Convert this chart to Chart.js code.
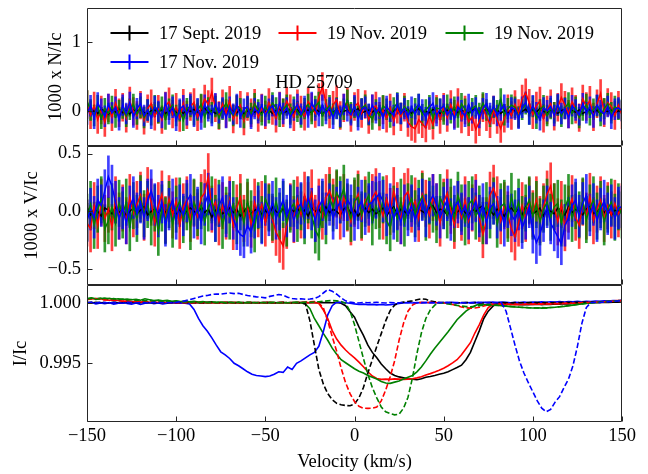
<!DOCTYPE html>
<html><head><meta charset="utf-8">
<script src="https://cdn.jsdelivr.net/npm/chart.js@4.4.1/dist/chart.umd.min.js"></script>
<style>
html,body{margin:0;padding:0;background:#fff;}
#wrap{position:relative;width:648px;height:474px;overflow:hidden;background:#fff;}
canvas{position:absolute;left:0;}
</style></head><body>
<div id="wrap">
<canvas id="cN" width="648" height="147" style="top:0px"></canvas>
<canvas id="cV" width="648" height="141" style="top:145px"></canvas>
<canvas id="cI" width="648" height="190" style="top:284px"></canvas>
</div>
<script>
// ---------------- DATA ----------------
// velocity grid of the Stokes N and V profiles (km/s)
const velocityNV = [-150,-148,-146,-144,-142,-140,-138,-136,-134,-132,-130,-128,-126,-124,-122,-120,-118,-116,-114,-112,-110,-108,-106,-104,-102,-100,-98,-96,-94,-92,-90,-88,-86,-84,-82,-80,-78,-76,-74,-72,-70,-68,-66,-64,-62,-60,-58,-56,-54,-52,-50,-48,-46,-44,-42,-40,-38,-36,-34,-32,-30,-28,-26,-24,-22,-20,-18,-16,-14,-12,-10,-8,-6,-4,-2,0,2,4,6,8,10,12,14,16,18,20,22,24,26,28,30,32,34,36,38,40,42,44,46,48,50,52,54,56,58,60,62,64,66,68,70,72,74,76,78,80,82,84,86,88,90,92,94,96,98,100,102,104,106,108,110,112,114,116,118,120,122,124,126,128,130,132,134,136,138,140,142,144,146,148,150];
// velocity grid of the intensity profiles (km/s)
const velocityI = [-150,-147.5,-145,-142.5,-140,-137.5,-135,-132.5,-130,-127.5,-125,-122.5,-120,-117.5,-115,-112.5,-110,-107.5,-105,-102.5,-100,-97.5,-95,-92.5,-90,-87.5,-85,-82.5,-80,-77.5,-75,-72.5,-70,-67.5,-65,-62.5,-60,-57.5,-55,-52.5,-50,-47.5,-45,-42.5,-40,-37.5,-35,-32.5,-30,-27.5,-25,-22.5,-20,-17.5,-15,-12.5,-10,-7.5,-5,-2.5,0,2.5,5,7.5,10,12.5,15,17.5,20,22.5,25,27.5,30,32.5,35,37.5,40,42.5,45,47.5,50,52.5,55,57.5,60,62.5,65,67.5,70,72.5,75,77.5,80,82.5,85,87.5,90,92.5,95,97.5,100,102.5,105,107.5,110,112.5,115,117.5,120,122.5,125,127.5,130,132.5,135,137.5,140,142.5,145,147.5,150];

const seriesLabels = ['17 Sept. 2019','19 Nov. 2019','19 Nov. 2019','17 Nov. 2019'];

// 1000 x N/Ic
const nBlack = [0.04,-0.02,0.01,-0.03,0.03,0.00,-0.04,0.02,-0.01,0.03,
-0.02,0.01,-0.04,0.02,0.00,0.03,-0.02,-0.03,0.01,0.02,
-0.01,0.03,-0.03,0.00,0.04,-0.02,0.01,-0.03,0.02,0.00,
0.03,-0.01,0.02,0.05,-0.02,0.01,-0.03,0.00,0.02,-0.01,
0.04,0.00,-0.02,0.03,-0.04,0.01,0.02,-0.01,0.03,-0.02,
0.00,0.02,-0.03,0.01,0.04,-0.02,0.00,0.03,-0.01,0.02,
-0.03,0.01,0.02,-0.02,0.03,0.00,-0.04,0.02,0.01,-0.02,
0.03,-0.01,0.00,0.02,-0.03,0.01,0.04,-0.02,0.00,0.02,
-0.01,0.03,-0.02,0.00,0.02,-0.04,0.01,0.03,-0.02,0.00,
0.02,-0.03,0.01,0.04,-0.01,0.00,-0.02,0.03,0.01,-0.03,
0.00,0.02,-0.01,0.03,-0.02,0.01,0.00,-0.03,0.02,0.04,
-0.02,0.01,0.03,-0.01,0.00,0.02,-0.03,0.01,-0.02,0.03,
0.01,-0.02,0.00,0.03,-0.03,0.02,-0.01,0.04,0.00,-0.02,
0.02,0.00,-0.03,0.01,0.03,-0.02,0.01,-0.01,0.02,-0.03,
0.00,0.03,-0.01,0.02,-0.04,0.01,0.00,0.02,-0.02,0.01,0.00];
const nRed = [0.10,-0.05,0.08,-0.12,0.02,-0.16,0.05,-0.08,0.12,-0.02,
0.06,-0.10,0.15,0.00,-0.06,0.09,-0.13,0.04,0.11,-0.07,
0.03,-0.12,0.08,0.14,-0.04,0.06,-0.09,0.12,-0.05,0.07,
0.13,-0.08,0.04,0.18,0.10,0.28,0.05,-0.06,0.11,-0.03,
0.16,-0.11,0.02,0.09,-0.14,0.07,-0.02,0.12,-0.09,0.05,
-0.05,0.13,0.01,-0.10,0.08,-0.02,0.15,0.04,-0.08,0.11,
0.02,-0.07,0.14,0.06,-0.03,0.20,0.36,0.12,-0.04,0.09,
0.17,-0.06,0.05,0.14,-0.09,0.07,0.12,-0.03,0.10,-0.12,
0.04,0.08,-0.07,0.02,-0.10,0.05,-0.14,0.03,-0.08,0.06,
-0.16,-0.22,-0.25,-0.12,-0.18,-0.24,-0.06,-0.20,0.03,-0.12,
0.06,-0.09,0.10,-0.04,0.13,-0.11,0.02,-0.15,-0.08,-0.26,
-0.15,0.05,-0.08,-0.18,0.02,-0.12,-0.25,-0.10,0.04,-0.06,
0.10,-0.03,0.18,0.27,0.12,-0.05,0.08,0.15,-0.10,0.02,
0.11,-0.07,0.06,0.20,0.09,-0.04,0.14,0.03,-0.09,0.18,
0.07,0.16,-0.08,0.11,0.26,-0.02,0.13,0.07,-0.06,0.09,-0.05];
const nGreen = [0.15,0.02,-0.06,0.08,-0.10,0.04,-0.03,0.07,-0.08,0.01,
0.05,-0.07,0.03,0.10,-0.04,0.06,-0.09,0.02,-0.05,0.08,
-0.02,0.06,-0.11,0.03,0.09,-0.06,0.01,-0.13,0.04,0.07,
-0.05,0.02,0.10,-0.08,0.05,-0.02,0.07,-0.10,0.03,0.12,
0.01,-0.06,0.08,0.04,-0.09,0.06,-0.03,0.11,0.02,-0.05,
0.07,-0.02,0.12,0.05,-0.07,0.03,0.09,-0.04,0.06,0.00,
-0.08,0.04,0.10,-0.03,0.07,0.13,-0.06,0.02,0.08,-0.04,
0.05,-0.09,0.03,0.16,-0.02,0.06,-0.07,0.04,0.09,-0.05,
-0.11,0.02,-0.06,0.08,0.03,-0.08,0.05,0.12,-0.03,0.07,
0.01,-0.07,0.04,0.10,-0.05,0.02,0.08,-0.10,0.05,0.03,
-0.04,0.09,-0.02,0.06,-0.08,0.11,0.03,-0.06,0.04,0.08,
-0.03,0.12,0.02,-0.07,0.06,0.01,0.18,-0.05,0.04,0.09,
0.06,-0.08,0.03,0.11,-0.04,0.07,-0.10,0.02,0.08,-0.06,
0.04,-0.02,0.09,-0.07,0.05,0.12,-0.03,0.06,-0.09,0.02,
0.10,-0.05,0.03,0.08,-0.06,0.04,0.11,-0.02,0.07,0.03,0.02];
const nBlue = [-0.04,0.08,-0.10,0.12,0.03,-0.07,0.10,-0.02,0.06,-0.12,
0.09,-0.03,0.13,-0.08,0.04,0.11,-0.06,0.02,-0.10,0.07,
0.00,-0.09,0.12,-0.04,0.06,-0.13,0.03,0.08,-0.05,0.10,
-0.07,0.04,-0.11,0.09,0.01,-0.06,0.11,-0.02,0.05,-0.09,
0.06,-0.04,0.10,-0.08,0.03,0.07,-0.10,0.04,-0.02,0.09,
-0.06,0.03,0.08,-0.05,0.12,-0.03,0.05,-0.09,0.02,0.10,
-0.04,0.07,-0.08,0.13,0.02,-0.06,0.09,-0.03,0.05,-0.10,
0.04,-0.07,0.10,0.01,-0.05,0.08,-0.12,0.03,0.06,-0.04,
0.09,-0.02,0.05,-0.10,0.07,0.00,-0.06,0.11,-0.03,0.04,
-0.08,0.06,-0.04,0.10,0.02,-0.09,0.05,0.12,-0.06,0.03,
0.08,-0.05,0.03,-0.11,0.06,0.01,-0.07,0.10,-0.02,0.05,
-0.09,0.04,0.11,-0.03,0.07,-0.06,0.02,0.09,-0.08,0.05,
0.03,-0.10,0.06,0.13,-0.04,0.08,-0.02,-0.12,0.05,0.01,
0.07,-0.06,0.10,-0.03,0.04,-0.09,0.08,0.02,-0.05,0.11,
-0.02,0.06,-0.08,0.09,0.01,-0.04,0.07,-0.10,0.03,0.05,0.01];
const nErr = [0.03,0.20,0.15,0.15];

// 1000 x V/Ic
const vBlack = [0.04,-0.03,0.02,0.00,-0.04,0.03,0.01,-0.02,0.04,-0.01,
0.02,-0.04,0.00,0.03,-0.02,0.01,0.04,-0.03,0.00,0.02,
-0.02,0.03,-0.01,0.04,0.00,-0.03,0.02,-0.04,0.01,0.03,
0.00,-0.02,0.04,-0.01,0.02,-0.05,0.01,0.03,-0.02,0.00,
0.03,-0.01,0.02,-0.04,0.00,0.04,-0.02,0.01,0.03,-0.03,
0.01,-0.03,0.04,0.00,-0.02,0.03,-0.04,0.02,0.00,0.03,
-0.02,0.01,-0.04,0.03,0.00,0.02,-0.03,0.04,-0.01,0.02,
0.00,-0.03,0.02,0.04,-0.02,0.01,-0.04,0.00,0.03,-0.01,
0.02,-0.02,0.00,0.03,-0.04,0.01,0.04,-0.03,0.02,0.00,
-0.03,0.04,-0.01,0.02,0.00,-0.02,0.03,0.05,-0.01,0.02,
0.01,-0.03,0.04,-0.02,0.00,0.03,-0.01,-0.04,0.02,0.00,
0.03,0.05,-0.02,0.01,-0.03,0.02,0.00,-0.04,0.01,0.03,
-0.01,0.02,-0.03,0.04,0.01,-0.02,0.00,0.03,-0.04,0.02,
0.00,-0.02,0.03,0.01,-0.03,0.04,-0.01,0.02,0.00,-0.03,
0.02,0.04,-0.02,0.00,0.03,-0.01,0.02,-0.03,0.01,0.00,0.01];
const vRed = [-0.10,-0.15,0.05,-0.12,0.08,-0.06,0.02,-0.14,0.10,-0.04,
0.03,-0.08,0.12,-0.02,0.06,0.14,-0.05,0.18,0.08,-0.10,
0.05,0.15,-0.07,0.11,-0.03,0.09,-0.12,0.04,0.10,-0.06,
0.07,-0.04,0.12,0.16,0.30,0.02,0.08,-0.09,0.05,-0.04,
0.10,-0.13,0.03,0.12,-0.06,0.05,-0.11,0.08,-0.02,0.06,
-0.10,0.04,-0.07,-0.18,-0.24,-0.30,-0.12,0.04,-0.07,0.10,
-0.03,0.14,0.05,0.16,-0.06,0.08,-0.04,0.12,0.18,0.08,
0.15,-0.04,0.12,0.03,-0.09,0.07,0.15,-0.05,0.10,0.02,
0.12,0.17,0.06,-0.04,0.11,0.00,0.18,0.05,-0.08,0.13,
0.17,0.02,0.09,-0.06,0.15,0.07,-0.03,0.12,0.04,-0.10,
0.08,0.16,0.01,-0.12,0.06,-0.05,0.10,-0.08,0.03,0.12,
-0.06,-0.20,-0.08,0.14,0.20,0.10,-0.08,0.05,-0.03,-0.15,
-0.22,-0.10,0.05,-0.06,0.09,-0.02,0.10,-0.07,0.04,0.15,
0.22,0.04,-0.09,0.06,-0.14,0.02,0.11,-0.05,-0.12,0.08,
-0.04,0.13,-0.08,0.02,0.10,-0.06,0.05,-0.03,0.07,-0.02,0.04];
const vGreen = [-0.05,0.06,-0.12,0.02,0.10,-0.15,-0.08,0.04,-0.10,0.07,
-0.03,0.08,-0.14,0.05,-0.06,0.11,-0.02,0.06,-0.09,0.03,
-0.18,0.03,-0.08,0.06,-0.11,0.02,0.09,-0.07,0.04,-0.13,
0.08,-0.01,0.05,-0.09,0.03,0.10,-0.06,0.07,-0.12,0.01,
-0.04,0.06,-0.08,0.04,-0.10,0.08,-0.02,-0.15,0.05,-0.07,
0.11,0.03,-0.05,0.09,-0.04,0.06,-0.10,0.02,0.07,-0.06,
0.04,-0.08,0.10,-0.03,-0.16,-0.22,0.06,-0.08,0.12,0.03,
0.16,0.10,0.20,0.04,-0.06,0.09,0.12,-0.03,0.07,0.14,
-0.09,0.05,-0.04,0.10,-0.08,-0.14,0.02,-0.06,0.08,-0.10,
0.04,0.11,-0.02,0.07,0.13,-0.05,0.09,0.02,-0.07,0.12,
0.05,-0.03,0.08,-0.06,0.14,0.03,-0.09,0.06,0.10,-0.04,
0.02,-0.08,0.05,-0.03,0.09,-0.11,0.04,0.07,-0.06,0.13,
-0.02,0.08,-0.07,0.03,0.10,-0.04,0.06,-0.09,0.02,0.08,
-0.05,0.04,0.07,-0.10,0.03,0.12,-0.06,0.05,-0.03,0.09,
-0.07,0.03,0.10,-0.04,0.06,-0.09,0.02,0.08,-0.05,0.04,-0.03];
const vBlue = [-0.08,0.02,-0.05,0.10,0.05,0.18,0.30,0.22,0.08,-0.06,
0.03,-0.10,0.04,0.12,-0.02,0.08,-0.06,0.10,0.18,0.06,
-0.04,0.08,-0.12,0.02,0.10,-0.06,0.05,-0.03,0.09,0.14,
-0.05,0.03,-0.10,0.06,0.15,0.02,-0.08,0.05,0.12,-0.04,
0.08,-0.06,-0.15,-0.20,-0.22,-0.12,-0.18,-0.05,0.04,-0.10,
0.06,-0.03,0.08,-0.06,0.02,0.10,-0.04,0.05,-0.08,0.03,
0.07,-0.05,0.12,0.02,-0.08,0.04,0.10,-0.02,0.06,-0.06,
0.03,0.08,-0.04,0.10,0.05,-0.07,0.03,0.09,-0.02,0.06,
0.08,0.12,0.15,0.09,-0.03,0.06,-0.06,0.02,-0.10,0.05,
-0.03,0.05,-0.08,0.02,0.10,-0.04,0.08,0.14,0.06,-0.05,
0.03,0.10,-0.07,0.04,0.08,-0.02,0.05,-0.06,0.02,0.09,
-0.04,0.06,-0.10,0.03,0.07,-0.05,0.01,-0.12,0.04,-0.03,
-0.08,0.02,-0.14,-0.06,0.04,-0.18,-0.27,-0.20,-0.08,0.04,
-0.10,-0.16,-0.22,-0.28,-0.12,-0.06,0.05,0.10,-0.04,0.07,
0.14,-0.03,0.06,-0.08,0.02,0.09,-0.02,0.05,-0.06,0.03,0.04];
const vErr = [0.03,0.20,0.20,0.18];

// I/Ic  (solid and dashed profiles)
const iBlackSolid = [1.00002,0.99998,1.00004,0.99999,1.00001,0.99997,1.00003,1.00000,0.99998,1.00002,
1.00000,0.99997,1.00002,1.00001,0.99998,1.00003,0.99999,1.00001,1.00000,0.99998,
1.00002,1.00000,0.99998,1.00001,0.99999,1.00002,1.00000,0.99997,1.00001,1.00000,
0.99999,1.00002,1.00000,0.99998,1.00001,1.00000,0.99999,1.00002,1.00000,0.99999,
1.00001,1.00000,0.99998,1.00002,1.00000,0.99999,1.00001,1.00000,1.00002,1.00000,
0.99999,1.00001,1.00000,1.00002,1.00000,0.99999,1.00001,0.99995,0.99975,0.99925,
0.99880,0.99800,0.99730,0.99650,0.99590,0.99545,0.99495,0.99455,0.99420,0.99400,
0.99388,0.99380,0.99372,0.99368,0.99365,0.99372,0.99385,0.99392,0.99400,0.99410,
0.99418,0.99430,0.99448,0.99465,0.99485,0.99530,0.99590,0.99680,0.99770,0.99870,
0.99930,0.99970,0.99995,1.00000,0.99990,0.99985,0.99988,0.99984,0.99986,0.99983,
0.99985,0.99987,0.99984,0.99988,0.99986,0.99990,0.99988,0.99992,0.99990,0.99994,
0.99993,0.99996,0.99998,1.00000,1.00002,1.00001,1.00004,1.00003,1.00005,1.00004,1.00006];
const iBlackDashed = [1.00001,1.00003,0.99999,1.00002,1.00000,0.99998,1.00002,1.00001,0.99999,1.00001,
1.00002,0.99999,1.00000,1.00003,1.00001,0.99998,1.00000,1.00002,0.99999,1.00001,
1.00000,1.00002,1.00001,0.99999,1.00002,1.00000,0.99998,1.00001,1.00003,1.00000,
0.99999,1.00001,1.00002,1.00000,0.99998,1.00001,1.00002,0.99999,1.00001,1.00000,
1.00002,1.00000,0.99999,1.00001,1.00003,1.00000,0.99998,1.00001,1.00000,0.99990,
0.99850,0.99650,0.99450,0.99330,0.99250,0.99200,0.99170,0.99158,0.99152,0.99150,
0.99165,0.99215,0.99300,0.99420,0.99530,0.99640,0.99745,0.99850,0.99935,0.99980,
0.99998,1.00005,1.00010,1.00015,1.00025,1.00032,1.00028,1.00015,1.00008,1.00004,
1.00002,1.00000,1.00001,0.99998,1.00000,1.00002,0.99999,1.00001,1.00000,0.99998,
1.00001,1.00000,0.99999,1.00002,1.00000,0.99998,1.00001,1.00000,0.99999,1.00001,
1.00000,1.00002,0.99999,1.00001,1.00000,1.00002,1.00001,1.00003,1.00002,1.00004,
1.00003,1.00005,1.00004,1.00006,1.00005,1.00007,1.00006,1.00008,1.00007,1.00009,1.00010];
const iRedSolid = [1.00030,1.00035,1.00028,1.00032,1.00025,1.00020,1.00024,1.00018,1.00012,1.00015,
1.00008,1.00012,1.00005,1.00009,1.00003,1.00006,1.00001,1.00004,0.99999,1.00003,
1.00001,0.99998,1.00003,1.00000,1.00002,0.99999,1.00001,1.00004,1.00000,0.99998,
1.00002,1.00000,0.99999,1.00003,1.00001,0.99998,1.00002,1.00000,1.00001,0.99999,
1.00001,1.00003,1.00000,0.99998,1.00002,1.00000,1.00001,0.99999,1.00002,1.00000,
1.00001,1.00000,0.99995,0.99940,0.99870,0.99770,0.99700,0.99650,0.99610,0.99575,
0.99545,0.99510,0.99472,0.99430,0.99395,0.99375,0.99368,0.99370,0.99368,0.99372,
0.99370,0.99368,0.99370,0.99372,0.99380,0.99390,0.99403,0.99415,0.99428,0.99443,
0.99460,0.99480,0.99503,0.99530,0.99570,0.99620,0.99670,0.99750,0.99820,0.99900,
0.99960,0.99985,0.99992,0.99990,0.99986,0.99988,0.99984,0.99987,0.99985,0.99989,
0.99986,0.99990,0.99988,0.99991,0.99989,0.99993,0.99991,0.99995,0.99994,0.99997,
0.99998,1.00001,1.00003,1.00005,1.00007,1.00010,1.00012,1.00015,1.00016,1.00018,1.00020];
const iRedDashed = [1.00025,1.00030,1.00035,1.00028,1.00022,1.00026,1.00018,1.00020,1.00012,1.00015,
1.00010,1.00006,1.00011,1.00004,1.00008,1.00002,1.00006,1.00001,1.00004,0.99999,
1.00002,1.00000,1.00003,0.99999,1.00001,1.00004,1.00000,0.99998,1.00002,1.00000,
0.99999,1.00003,1.00001,1.00000,0.99998,1.00002,1.00000,1.00003,0.99999,1.00001,
1.00000,1.00002,0.99999,1.00001,1.00003,1.00000,0.99998,1.00002,1.00004,1.00006,
1.00008,1.00010,0.99995,0.99960,0.99850,0.99720,0.99600,0.99460,0.99340,0.99250,
0.99185,0.99145,0.99130,0.99128,0.99130,0.99140,0.99190,0.99280,0.99390,0.99520,
0.99690,0.99830,0.99930,0.99980,1.00000,1.00003,1.00001,1.00004,1.00002,1.00000,
0.99998,0.99994,0.99985,0.99975,0.99965,0.99958,0.99955,0.99956,0.99962,0.99972,
0.99982,0.99988,0.99990,0.99987,0.99989,0.99986,0.99988,0.99985,0.99987,0.99990,
0.99988,0.99991,0.99989,0.99992,0.99990,0.99994,0.99992,0.99995,0.99997,0.99996,
0.99999,1.00002,1.00001,1.00004,1.00006,1.00005,1.00008,1.00010,1.00012,1.00014,1.00016];
const iGreenSolid = [1.00035,1.00040,1.00032,1.00038,1.00030,1.00036,1.00028,1.00033,1.00026,1.00030,
1.00024,1.00028,1.00020,1.00032,1.00025,1.00018,1.00022,1.00015,1.00019,1.00012,
1.00015,1.00010,1.00013,1.00008,1.00011,1.00006,1.00010,1.00004,1.00008,1.00003,
1.00006,1.00002,1.00005,1.00001,1.00004,1.00000,1.00003,1.00001,0.99999,1.00002,
1.00000,1.00003,1.00001,0.99999,1.00002,1.00000,1.00001,1.00003,1.00000,0.99990,
0.99950,0.99870,0.99810,0.99747,0.99690,0.99625,0.99575,0.99530,0.99505,0.99480,
0.99455,0.99435,0.99420,0.99400,0.99385,0.99370,0.99350,0.99338,0.99335,0.99345,
0.99355,0.99370,0.99385,0.99400,0.99430,0.99470,0.99520,0.99575,0.99625,0.99670,
0.99715,0.99760,0.99810,0.99860,0.99895,0.99930,0.99955,0.99975,0.99990,0.99985,
0.99980,0.99984,0.99980,0.99976,0.99972,0.99968,0.99965,0.99962,0.99960,0.99958,
0.99956,0.99958,0.99955,0.99957,0.99960,0.99962,0.99966,0.99970,0.99975,0.99980,
0.99985,0.99990,0.99994,0.99998,1.00002,1.00005,1.00008,1.00010,1.00013,1.00015,1.00018];
const iGreenDashed = [1.00030,1.00036,1.00027,1.00033,1.00038,1.00029,1.00034,1.00025,1.00030,1.00022,
1.00026,1.00019,1.00023,1.00016,1.00020,1.00013,1.00017,1.00010,1.00014,1.00008,
1.00011,1.00005,1.00009,1.00003,1.00007,1.00002,1.00005,1.00000,1.00003,1.00001,
1.00004,0.99999,1.00002,1.00000,1.00003,0.99998,1.00001,1.00003,1.00000,1.00002,
0.99999,1.00001,1.00003,1.00000,1.00002,0.99999,1.00001,1.00004,1.00002,1.00005,
1.00003,1.00006,1.00008,1.00012,1.00015,1.00018,1.00015,1.00010,0.99995,0.99930,
0.99820,0.99680,0.99540,0.99410,0.99300,0.99215,0.99140,0.99100,0.99085,0.99075,
0.99080,0.99130,0.99220,0.99380,0.99580,0.99750,0.99870,0.99940,0.99980,1.00000,
0.99996,0.99990,0.99985,0.99978,0.99972,0.99968,0.99966,0.99970,0.99975,0.99980,
0.99984,0.99981,0.99978,0.99975,0.99972,0.99969,0.99966,0.99963,0.99961,0.99959,
0.99958,0.99956,0.99959,0.99957,0.99960,0.99963,0.99967,0.99971,0.99976,0.99981,
0.99986,0.99990,0.99995,0.99999,1.00003,1.00006,1.00009,1.00012,1.00014,1.00016,1.00019];
const iBlueSolid = [0.99995,1.00002,0.99990,0.99998,0.99992,1.00000,0.99988,0.99996,1.00003,0.99994,
0.99988,0.99997,0.99985,0.99995,1.00001,0.99992,0.99998,0.99989,0.99996,1.00002,
0.99995,0.99999,0.99996,0.99990,0.99945,0.99870,0.99810,0.99765,0.99710,0.99650,
0.99595,0.99570,0.99540,0.99500,0.99480,0.99455,0.99430,0.99410,0.99400,0.99395,
0.99390,0.99395,0.99410,0.99430,0.99425,0.99470,0.99450,0.99500,0.99520,0.99545,
0.99570,0.99590,0.99640,0.99760,0.99900,0.99975,1.00005,1.00003,1.00000,0.99996,
0.99990,0.99985,0.99988,0.99983,0.99986,0.99982,0.99985,0.99981,0.99984,0.99988,
0.99994,0.99998,1.00001,0.99997,1.00002,0.99999,1.00003,0.99998,1.00001,0.99997,
1.00002,0.99999,1.00004,1.00000,0.99997,1.00002,0.99999,1.00003,1.00000,1.00004,
1.00001,1.00005,1.00002,1.00006,1.00003,1.00000,1.00004,1.00001,1.00005,1.00002,
1.00006,1.00003,1.00007,1.00004,1.00008,1.00005,1.00009,1.00006,1.00010,1.00007,
1.00011,1.00008,1.00012,1.00010,1.00014,1.00011,1.00015,1.00013,1.00017,1.00016,1.00020];
const iBlueDashed = [1.00000,1.00004,0.99998,1.00003,1.00001,0.99997,1.00002,1.00000,0.99996,1.00003,
1.00001,0.99998,1.00002,1.00000,0.99997,1.00003,1.00001,0.99999,1.00002,1.00000,
1.00003,1.00008,1.00015,1.00025,1.00035,1.00045,1.00055,1.00060,1.00068,1.00072,
1.00070,1.00076,1.00080,1.00075,1.00078,1.00068,1.00060,1.00054,1.00048,1.00045,
1.00040,1.00052,1.00060,1.00068,1.00062,1.00045,1.00035,1.00030,1.00032,1.00028,
1.00030,1.00035,1.00050,1.00080,1.00108,1.00095,1.00070,1.00040,1.00015,1.00005,
1.00000,0.99998,1.00002,0.99999,1.00001,1.00003,1.00000,0.99998,1.00002,1.00000,
0.99999,1.00002,1.00000,1.00003,0.99998,1.00001,1.00000,1.00002,0.99999,1.00001,
1.00000,1.00003,0.99999,1.00001,1.00002,0.99998,1.00001,1.00000,1.00003,1.00001,
1.00002,1.00000,1.00001,0.99995,0.99930,0.99790,0.99650,0.99520,0.99420,0.99340,
0.99265,0.99190,0.99130,0.99100,0.99120,0.99180,0.99225,0.99300,0.99370,0.99480,
0.99640,0.99830,0.99960,1.00000,1.00004,1.00002,1.00006,1.00008,1.00010,1.00014,1.00018];

// ticks
const velTicks = [-150,-100,-50,0,50,100,150];
const velTickLabels = ['\u2212150','\u2212100','\u221250','0','50','100','150'];
const nTicks = [0,1];
const nTickLabels = ['0','1'];
const vTicks = [-0.5,0,0.5];
const vTickLabels = ['\u22120.5','0.0','0.5'];
const iTicks = [0.995,1.0];
const iTickLabels = ['0.995','1.000'];

// ---------------- STYLE ----------------
const colors = ['#000000','#ff0000','#008000','#0000ff'];
const barColors = ['rgba(0,0,0,0.8)','rgba(255,0,0,0.75)','rgba(0,128,0,0.8)','rgba(0,0,255,0.75)'];
const FF = "'Liberation Serif','Times New Roman',Times,serif";
const FONT = {family: FF, size: 18.5, lineHeight: 1.2};
const PLOT_LEFT = 87;
const PLOT_RIGHT_PAD = 26;
const TICK_LEN = 5;

function labelFor(ticks, labels) {
  return v => { const i = ticks.findIndex(t => Math.abs(t - v) < 1e-9); return i >= 0 ? labels[i] : ''; };
}

function yScale(min, max, ticks, labels, title, padLeft) {
  return {
    type: 'linear', position: 'left', min, max,
    afterBuildTicks: s => { s.ticks = ticks.map(v => ({value: v})); },
    afterFit: s => { s.width = PLOT_LEFT - padLeft; s.paddingTop = 0; s.paddingBottom = 0; },
    ticks: {padding: 6, font: FONT, color: '#000', callback: labelFor(ticks, labels)},
    grid: {display: false, drawTicks: false},
    border: {display: false},
    title: {display: true, text: title, font: FONT, color: '#000', padding: {top: 0, bottom: 0}}
  };
}

const framePlugin = {
  id: 'frame',
  afterDatasetsDraw(chart) {
    const {ctx, chartArea: a, scales} = chart;
    ctx.save();
    ctx.strokeStyle = '#262626';
    ctx.lineWidth = 1;
    const L = Math.round(a.left) + 0.5, R = Math.round(a.right) - 0.5;
    const T = Math.round(a.top) + 0.5, B = Math.round(a.bottom) - 0.5;
    ctx.beginPath();
    ctx.rect(L, T, R - L, B - T);
    ctx.stroke();
    ctx.beginPath();
    const ys = scales.y;
    ys.ticks.forEach(t => {
      const p = Math.round(ys.getPixelForValue(t.value)) + 0.5;
      ctx.moveTo(L, p); ctx.lineTo(L + TICK_LEN, p);
    });
    const xs = scales.x;
    velTicks.forEach(v => {
      const p = Math.round(xs.getPixelForValue(v)) + 0.5;
      ctx.moveTo(p, B); ctx.lineTo(p, B - TICK_LEN);
    });
    ctx.stroke();
    ctx.restore();
  }
};

const legendPlugin = {
  id: 'legendBox',
  afterDraw(chart) {
    const ctx = chart.ctx;
    const pos = [[129.5, 33], [297.5, 33], [464.5, 33], [129.5, 62]];
    ctx.save();
    ctx.font = `${FONT.size}px ${FF}`;
    ctx.textBaseline = 'middle';
    ctx.textAlign = 'left';
    seriesLabels.forEach((lab, k) => {
      const [cx, cy] = pos[k];
      ctx.strokeStyle = colors[k];
      ctx.lineWidth = 2;
      ctx.beginPath();
      ctx.moveTo(cx - 19, cy); ctx.lineTo(cx + 19, cy);
      ctx.moveTo(cx, cy - 7.5); ctx.lineTo(cx, cy + 7.5);
      ctx.stroke();
      ctx.fillStyle = '#000';
      ctx.fillText(lab, cx + 29.5, cy + 1);
    });
    const xs = chart.scales.x, ys = chart.scales.y;
    ctx.textAlign = 'center';
    ctx.fillText('HD 25709', xs.getPixelForValue(-22.7), ys.getPixelForValue(0.41));
    ctx.restore();
  }
};

// all error bars first (black, red, green, blue), then all profile lines on top
function noiseDatasets(series, errs) {
  const ds = [];
  series.forEach((vals, k) => {
    ds.push({
      type: 'bar',
      data: velocityNV.map((x, i) => ({x, y: [vals[i] - errs[k], vals[i] + errs[k]]})),
      backgroundColor: barColors[k], borderWidth: 0, barThickness: 2, grouped: false,
      order: 8 - k
    });
    ds.push({
      type: 'line',
      data: velocityNV.map((x, i) => ({x, y: vals[i]})),
      borderColor: colors[k], borderWidth: 1.5, pointRadius: 0, tension: 0, fill: false,
      order: 4 - k
    });
  });
  return ds;
}

const hiddenX = {type: 'linear', min: -150, max: 150, offset: false, display: false,
  afterFit: s => { s.paddingLeft = 0; s.paddingRight = 0; }};

function baseOptions(padding, scales) {
  return {
    responsive: false, animation: false, devicePixelRatio: 1,
    layout: {padding},
    events: [],
    plugins: {legend: {display: false}, tooltip: {enabled: false}},
    scales
  };
}

new Chart(document.getElementById('cN'), {
  type: 'line',
  data: {datasets: noiseDatasets([nBlack, nRed, nGreen, nBlue], nErr)},
  options: baseOptions({left: 45, right: PLOT_RIGHT_PAD, top: 7.5, bottom: 1},
    {x: hiddenX, y: yScale(-0.5, 1.5, nTicks, nTickLabels, '1000 x N/Ic', 45)}),
  plugins: [framePlugin, legendPlugin]
});

new Chart(document.getElementById('cV'), {
  type: 'line',
  data: {datasets: noiseDatasets([vBlack, vRed, vGreen, vBlue], vErr)},
  options: baseOptions({left: 21, right: PLOT_RIGHT_PAD, top: 1, bottom: 1},
    {x: hiddenX, y: yScale(-0.635, 0.565, vTicks, vTickLabels, '1000 x V/Ic', 21)}),
  plugins: [framePlugin]
});

const iSolid = [iBlackSolid, iRedSolid, iGreenSolid, iBlueSolid];
const iDashed = [iBlackDashed, iRedDashed, iGreenDashed, iBlueDashed];
const iDatasets = [];
iSolid.forEach((vals, k) => iDatasets.push({
  data: velocityI.map((x, i) => ({x, y: vals[i]})),
  borderColor: colors[k], borderWidth: 1.6, pointRadius: 0, tension: 0, fill: false, order: 8 - k
}));
iDashed.forEach((vals, k) => iDatasets.push({
  data: velocityI.map((x, i) => ({x, y: vals[i]})),
  borderColor: colors[k], borderWidth: 1.6, borderDash: [5.5, 2.5], pointRadius: 0, tension: 0, fill: false, order: 4 - k
}));

new Chart(document.getElementById('cI'), {
  type: 'line',
  data: {datasets: iDatasets},
  options: baseOptions({left: 10, right: PLOT_RIGHT_PAD, top: 1, bottom: 0}, {
    x: {
      type: 'linear', min: -150, max: 150, offset: false, position: 'bottom',
      afterBuildTicks: s => { s.ticks = velTicks.map(v => ({value: v})); },
      afterFit: s => { s.height = 52; s.paddingLeft = 0; s.paddingRight = 0; },
      ticks: {padding: 3, font: FONT, color: '#000', maxRotation: 0, autoSkip: false, callback: labelFor(velTicks, velTickLabels)},
      grid: {display: false, drawTicks: false},
      border: {display: false},
      title: {display: true, text: 'Velocity (km/s)', font: FONT, color: '#000', padding: {top: 0, bottom: 1.2}}
    },
    y: yScale(0.99016, 1.00146, iTicks, iTickLabels, 'I/Ic', 10)
  }),
  plugins: [framePlugin]
});
</script>
</body></html>
